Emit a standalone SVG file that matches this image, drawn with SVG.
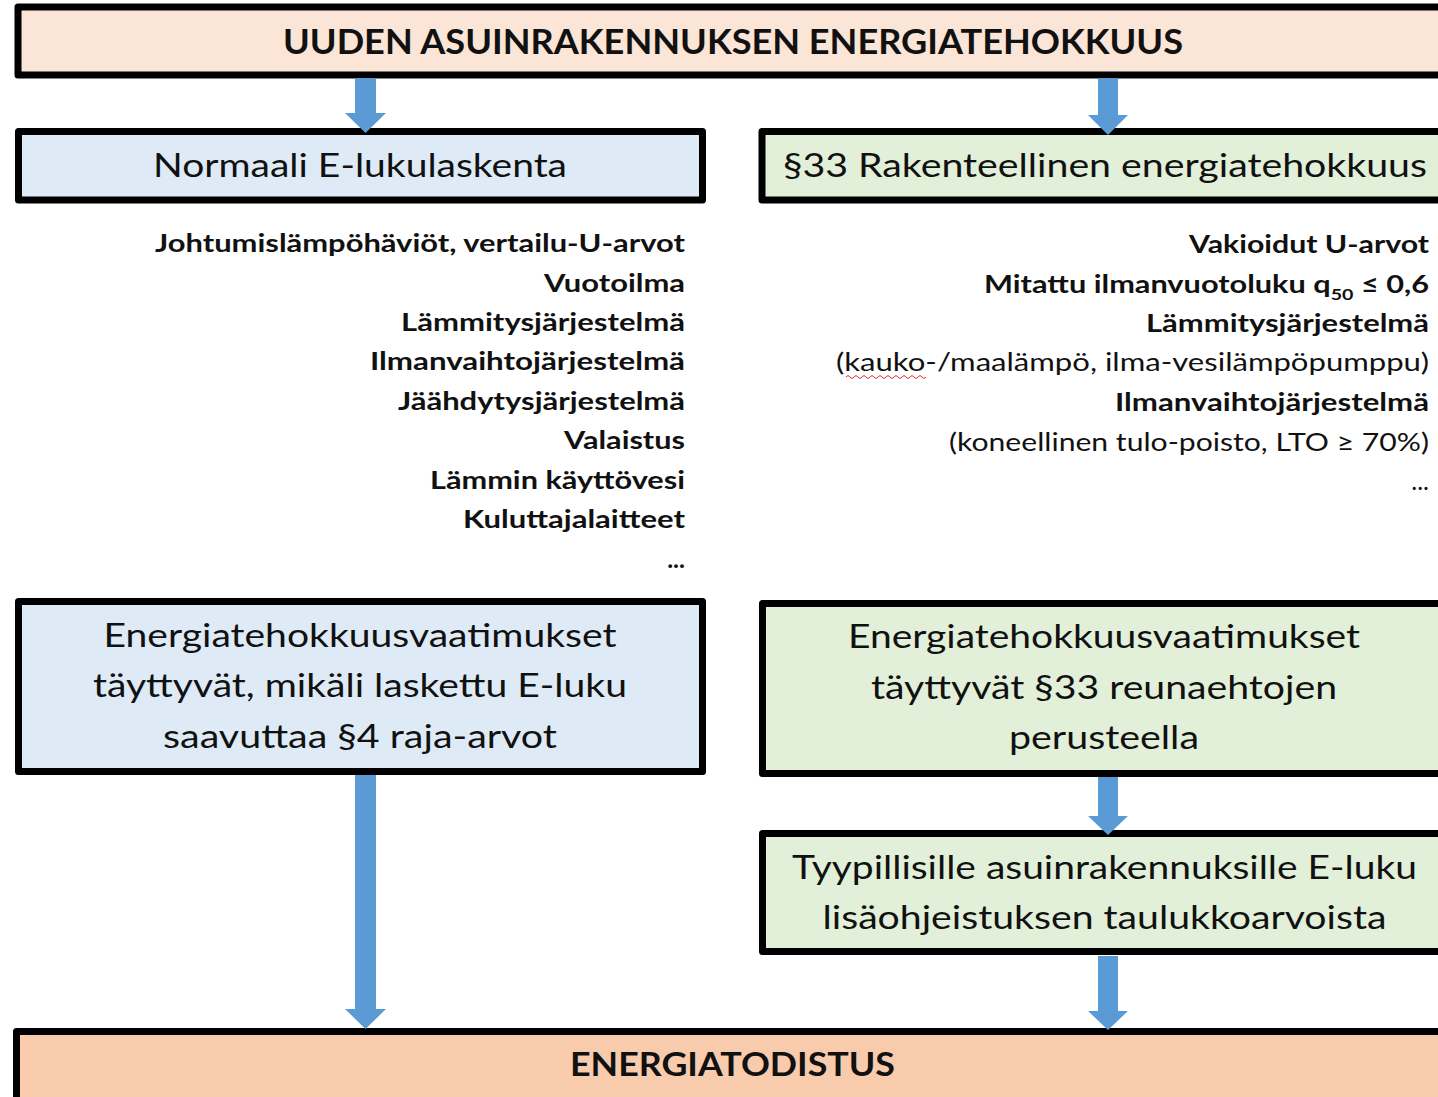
<svg xmlns="http://www.w3.org/2000/svg" width="1438" height="1097" viewBox="0 0 1438 1097">
<style>
.box{stroke:#000;stroke-width:7;stroke-linejoin:round}
.t{font-family:Lato,"Liberation Sans",sans-serif;fill:#111;text-anchor:middle}
.b{font-weight:bold}
.l{font-family:Lato,"Liberation Sans",sans-serif;fill:#111;text-anchor:end;font-size:25px}
.arrow{fill:#5b9bd5}
</style>
<rect width="1438" height="1097" fill="#fff"/>
<g id="title">
<rect class="box" x="18" y="7" width="1440" height="68" fill="#fbe5d6" stroke-width="6"/>
<text class="t b" x="733" y="54" font-size="35" textLength="900" lengthAdjust="spacingAndGlyphs">UUDEN ASUINRAKENNUKSEN ENERGIATEHOKKUUS</text>
</g>
<g id="normal">
<rect class="box" x="18.5" y="131.5" width="684" height="68.5" fill="#deebf7"/>
<text class="t" x="360" y="177" font-size="33" textLength="414" lengthAdjust="spacingAndGlyphs">Normaali E-lukulaskenta</text>
</g>
<g id="rakenteellinen">
<rect class="box" x="762" y="131.5" width="700" height="68.5" fill="#e2f0d9"/>
<text class="t" x="1105" y="177" font-size="33" textLength="644" lengthAdjust="spacingAndGlyphs">§33 Rakenteellinen energiatehokkuus</text>
</g>
<g id="list-left" class="b">
<text class="l" x="685" y="252" textLength="530" lengthAdjust="spacingAndGlyphs">Johtumislämpöhäviöt, vertailu-U-arvot</text>
<text class="l" x="685" y="292" textLength="141" lengthAdjust="spacingAndGlyphs">Vuotoilma</text>
<text class="l" x="685" y="331" textLength="284" lengthAdjust="spacingAndGlyphs">Lämmitysjärjestelmä</text>
<text class="l" x="685" y="370" textLength="315" lengthAdjust="spacingAndGlyphs">Ilmanvaihtojärjestelmä</text>
<text class="l" x="685" y="410" textLength="287" lengthAdjust="spacingAndGlyphs">Jäähdytysjärjestelmä</text>
<text class="l" x="685" y="449" textLength="121" lengthAdjust="spacingAndGlyphs">Valaistus</text>
<text class="l" x="685" y="489" textLength="255" lengthAdjust="spacingAndGlyphs">Lämmin käyttövesi</text>
<text class="l" x="685" y="528" textLength="222" lengthAdjust="spacingAndGlyphs">Kuluttajalaitteet</text>
<text class="l" x="685" y="568">...</text>
</g>
<g id="list-right">
<text class="l b" x="1429" y="253" textLength="240" lengthAdjust="spacingAndGlyphs">Vakioidut U-arvot</text>
<text class="l b" x="1429" y="293" textLength="445" lengthAdjust="spacingAndGlyphs">Mitattu ilmanvuotoluku q<tspan font-size="16" dy="7">50</tspan><tspan dy="-7"> ≤ 0,6</tspan></text>
<text class="l b" x="1429" y="332" textLength="283" lengthAdjust="spacingAndGlyphs">Lämmitysjärjestelmä</text>
<text class="l" x="1429" y="371" textLength="593" lengthAdjust="spacingAndGlyphs">(kauko-/maalämpö, ilma-vesilämpöpumppu)</text>
<path d="M846,377 q2,-3 4,0 t4,0 t4,0 t4,0 t4,0 t4,0 t4,0 t4,0 t4,0 t4,0 t4,0 t4,0 t4,0 t4,0 t4,0 t4,0 t4,0 t4,0 t4,0 t4,0" fill="none" stroke="#e03030" stroke-width="1"/>
<text class="l b" x="1429" y="411" textLength="314" lengthAdjust="spacingAndGlyphs">Ilmanvaihtojärjestelmä</text>
<text class="l" x="1429" y="451" textLength="480" lengthAdjust="spacingAndGlyphs">(koneellinen tulo-poisto, LTO ≥ 70%)</text>
<text class="l" x="1429" y="490">...</text>
</g>
<g id="vaatimukset-left">
<rect class="box" x="18.5" y="601.5" width="684" height="170" fill="#deebf7"/>
<text class="t" x="360" y="647" font-size="32" textLength="513" lengthAdjust="spacingAndGlyphs">Energiatehokkuusvaatimukset</text>
<text class="t" x="360" y="697" font-size="32" textLength="534" lengthAdjust="spacingAndGlyphs">täyttyvät, mikäli laskettu E-luku</text>
<text class="t" x="360" y="748" font-size="32" textLength="394" lengthAdjust="spacingAndGlyphs">saavuttaa §4 raja-arvot</text>
</g>
<g id="vaatimukset-right">
<rect class="box" x="762.5" y="603.5" width="700" height="170" fill="#e2f0d9"/>
<text class="t" x="1104" y="648" font-size="32" textLength="512" lengthAdjust="spacingAndGlyphs">Energiatehokkuusvaatimukset</text>
<text class="t" x="1104" y="699" font-size="32" textLength="466" lengthAdjust="spacingAndGlyphs">täyttyvät §33 reunaehtojen</text>
<text class="t" x="1104" y="749" font-size="32" textLength="190" lengthAdjust="spacingAndGlyphs">perusteella</text>
</g>
<g id="taulukko">
<rect class="box" x="762.5" y="833.5" width="700" height="118" fill="#e2f0d9"/>
<text class="t" x="1104.5" y="879" font-size="32" textLength="625" lengthAdjust="spacingAndGlyphs">Tyypillisille asuinrakennuksille E-luku</text>
<text class="t" x="1104.5" y="929" font-size="32" textLength="564" lengthAdjust="spacingAndGlyphs">lisäohjeistuksen taulukkoarvoista</text>
</g>
<g id="todistus">
<rect class="box" x="16.5" y="1031.5" width="1440" height="100" fill="#f8cbad"/>
<text class="t b" x="732.5" y="1076" font-size="33" textLength="325" lengthAdjust="spacingAndGlyphs">ENERGIATODISTUS</text>
</g>
<g id="connectors">
<polygon class="arrow" points="355,78 376,78 376,113 386,113 365.5,133 345,113 355,113"/>
<polygon class="arrow" points="1098,78 1118,78 1118,115 1128,115 1108,135 1088,115 1098,115"/>
<polygon class="arrow" points="355,775 376,775 376,1009 386,1009 365.5,1029 345,1009 355,1009"/>
<polygon class="arrow" points="1098,777 1118,777 1118,816 1128,816 1108,835 1088,816 1098,816"/>
<polygon class="arrow" points="1098,956 1118,956 1118,1011 1128,1011 1108,1030 1088,1011 1098,1011"/>
</g>
</svg>
